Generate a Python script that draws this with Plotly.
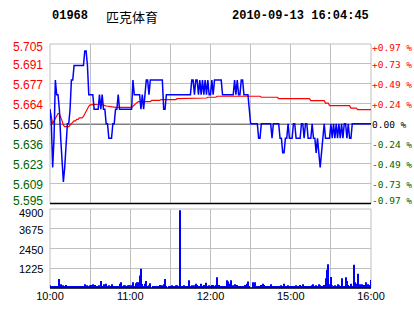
import plotly.graph_objects as go

# ---------------- data ----------------
stock_code = "01968"
stock_name = "匹克体育"
timestamp = "2010-09-13 16:04:45"
prev_close = 5.650

time_labels = ["10:00", "", "11:00", "", "12:00", "", "15:00", "", "16:00"]
time_ticks = [0, 30, 60, 90, 120, 150, 180, 210, 240]

price_labels = ["5.705", "5.691", "5.677", "5.664", "5.650", "5.636", "5.623", "5.609", "5.595"]
pct_labels = ["+0.97 %", "+0.73 %", "+0.49 %", "+0.24 %", "0.00 %", "-0.24 %", "-0.49 %", "-0.73 %", "-0.97 %"]
pct_steps = [4, 3, 2, 1, 0, -1, -2, -3, -4]
max_pct = 0.97

vol_ticks = [1225, 2450, 3675, 4900]
vol_labels = ["1225", "2450", "3675", "4900"]

minutes = list(range(241))

price = [
    5.66, 5.65, 5.62, 5.64, 5.68, 5.67, 5.67, 5.66, 5.64, 5.62,
    5.61, 5.62, 5.64, 5.65, 5.65, 5.66, 5.68, 5.68, 5.69, 5.69,
    5.69, 5.69, 5.69, 5.69, 5.69, 5.69, 5.70, 5.70, 5.69, 5.67,
    5.67, 5.67, 5.67, 5.66, 5.66, 5.66, 5.66, 5.67, 5.66, 5.67,
    5.66, 5.66, 5.65, 5.65, 5.64, 5.64, 5.64, 5.65, 5.65, 5.66,
    5.66, 5.67, 5.66, 5.66, 5.66, 5.66, 5.66, 5.66, 5.66, 5.66,
    5.66, 5.66, 5.68, 5.67, 5.67, 5.67, 5.67, 5.67, 5.66, 5.67,
    5.66, 5.67, 5.68, 5.68, 5.67, 5.68, 5.68, 5.68, 5.68, 5.68,
    5.68, 5.68, 5.68, 5.68, 5.68, 5.66, 5.66, 5.67, 5.67, 5.67,
    5.67, 5.67, 5.67, 5.67, 5.67, 5.67, 5.67, 5.67, 5.67, 5.67,
    5.67, 5.67, 5.67, 5.67, 5.67, 5.67, 5.68, 5.68, 5.67, 5.68,
    5.68, 5.67, 5.68, 5.67, 5.68, 5.67, 5.68, 5.67, 5.68, 5.67,
    5.67, 5.68, 5.67, 5.68, 5.68, 5.68, 5.68, 5.68, 5.68, 5.67,
    5.67, 5.67, 5.67, 5.67, 5.67, 5.67, 5.67, 5.67, 5.68, 5.67,
    5.68, 5.67, 5.67, 5.68, 5.68, 5.67, 5.67, 5.67, 5.67, 5.66,
    5.65, 5.65, 5.65, 5.65, 5.65, 5.65, 5.64, 5.64, 5.65, 5.65,
    5.65, 5.65, 5.65, 5.65, 5.65, 5.65, 5.64, 5.65, 5.65, 5.65,
    5.65, 5.65, 5.64, 5.64, 5.63, 5.63, 5.64, 5.64, 5.65, 5.64,
    5.64, 5.64, 5.65, 5.65, 5.64, 5.64, 5.64, 5.64, 5.65, 5.65,
    5.64, 5.65, 5.65, 5.64, 5.64, 5.64, 5.65, 5.64, 5.64, 5.63,
    5.64, 5.63, 5.62, 5.63, 5.64, 5.65, 5.64, 5.64, 5.64, 5.64,
    5.65, 5.64, 5.65, 5.64, 5.65, 5.64, 5.65, 5.64, 5.65, 5.64,
    5.65, 5.65, 5.64, 5.65, 5.64, 5.64, 5.65, 5.65, 5.65, 5.65,
    5.65, 5.65, 5.65, 5.65, 5.65, 5.65, 5.65, 5.65, 5.65, 5.65,
    5.65,
]

avg_price = [
    5.6600, 5.6560, 5.6500, 5.6520, 5.6540, 5.6560, 5.6570, 5.6570, 5.6550, 5.6520,
    5.6490, 5.6480, 5.6480, 5.6480, 5.6480, 5.6490, 5.6500, 5.6510, 5.6520, 5.6520,
    5.6530, 5.6530, 5.6540, 5.6540, 5.6540, 5.6550, 5.6570, 5.6590, 5.6610, 5.6620,
    5.6630, 5.6630, 5.6630, 5.6630, 5.6630, 5.6630, 5.6634, 5.6636, 5.6632, 5.6630,
    5.6628, 5.6625, 5.6622, 5.6620, 5.6620, 5.6618, 5.6615, 5.6613, 5.6612, 5.6612,
    5.6612, 5.6612, 5.6613, 5.6613, 5.6613, 5.6613, 5.6613, 5.6613, 5.6613, 5.6613,
    5.6613, 5.6613, 5.6620, 5.6630, 5.6638, 5.6645, 5.6652, 5.6652, 5.6652, 5.6652,
    5.6652, 5.6652, 5.6652, 5.6652, 5.6652, 5.6652, 5.6660, 5.6660, 5.6660, 5.6660,
    5.6660, 5.6660, 5.6660, 5.6666, 5.6666, 5.6666, 5.6666, 5.6666, 5.6666, 5.6666,
    5.6666, 5.6666, 5.6666, 5.6666, 5.6666, 5.6672, 5.6672, 5.6672, 5.6672, 5.6672,
    5.6677, 5.6677, 5.6677, 5.6677, 5.6677, 5.6677, 5.6677, 5.6677, 5.6677, 5.6677,
    5.6677, 5.6677, 5.6677, 5.6677, 5.6677, 5.6677, 5.6677, 5.6677, 5.6682, 5.6682,
    5.6682, 5.6682, 5.6682, 5.6682, 5.6682, 5.6689, 5.6689, 5.6689, 5.6689, 5.6689,
    5.6689, 5.6689, 5.6689, 5.6689, 5.6689, 5.6689, 5.6689, 5.6689, 5.6689, 5.6689,
    5.6689, 5.6689, 5.6689, 5.6689, 5.6689, 5.6689, 5.6694, 5.6694, 5.6694, 5.6694,
    5.6694, 5.6689, 5.6689, 5.6689, 5.6689, 5.6689, 5.6689, 5.6689, 5.6682, 5.6682,
    5.6682, 5.6682, 5.6682, 5.6682, 5.6682, 5.6682, 5.6682, 5.6682, 5.6682, 5.6682,
    5.6682, 5.6672, 5.6672, 5.6672, 5.6672, 5.6672, 5.6672, 5.6672, 5.6672, 5.6672,
    5.6672, 5.6672, 5.6672, 5.6672, 5.6672, 5.6672, 5.6672, 5.6672, 5.6672, 5.6672,
    5.6672, 5.6672, 5.6672, 5.6672, 5.6672, 5.6659, 5.6659, 5.6659, 5.6659, 5.6659,
    5.6659, 5.6659, 5.6659, 5.6659, 5.6659, 5.6659, 5.6642, 5.6642, 5.6642, 5.6624,
    5.6624, 5.6624, 5.6624, 5.6624, 5.6624, 5.6624, 5.6624, 5.6624, 5.6624, 5.6624,
    5.6624, 5.6624, 5.6624, 5.6624, 5.6624, 5.6608, 5.6608, 5.6608, 5.6608, 5.6608,
    5.6597, 5.6597, 5.6597, 5.6597, 5.6597, 5.6597, 5.6597, 5.6597, 5.6597, 5.6597,
    5.6597,
]

volume = [
    170, 80, 120, 120, 120, 120, 0, 560, 230, 120,
    170, 120, 190, 120, 120, 120, 120, 120, 120, 120,
    120, 0, 120, 80, 0, 120, 230, 120, 170, 120,
    170, 190, 230, 120, 190, 120, 120, 170, 440, 120,
    230, 230, 270, 120, 170, 120, 230, 120, 120, 120,
    120, 120, 270, 350, 120, 170, 170, 120, 170, 170,
    170, 170, 350, 120, 290, 350, 350, 770, 1190, 250,
    120, 270, 440, 120, 170, 290, 0, 120, 120, 120,
    120, 120, 190, 120, 170, 230, 560, 120, 0, 120,
    120, 170, 120, 120, 170, 170, 120, 4820, 120, 120,
    170, 120, 120, 120, 480, 120, 170, 120, 170, 270,
    190, 120, 120, 270, 120, 190, 120, 330, 120, 170,
    120, 190, 190, 120, 190, 670, 190, 120, 120, 120,
    120, 120, 480, 400, 270, 480, 120, 170, 230, 120,
    190, 120, 120, 120, 120, 120, 190, 270, 400, 120,
    0, 0, 350, 350, 120, 120, 120, 120, 190, 270,
    190, 120, 120, 120, 120, 230, 120, 120, 120, 120,
    120, 120, 120, 170, 120, 270, 120, 120, 170, 120,
    120, 120, 120, 120, 170, 120, 120, 190, 120, 230,
    120, 120, 120, 120, 120, 120, 170, 230, 120, 170,
    120, 230, 170, 120, 120, 190, 600, 1130, 1480, 230,
    690, 170, 120, 170, 120, 230, 170, 120, 600, 120,
    120, 670, 440, 190, 120, 270, 120, 1440, 350, 270,
    880, 120, 230, 230, 120, 190, 350, 190, 230, 190,
    500,
]

# ---------------- styling / layout ----------------
W, H = 414, 314
L, R, T, B = 50, 371, 44, 288
PRICE_BOTTOM = 203.5
VOL_TOP = 209

RED = "#ff0000"
GREEN = "#006400"
GRID = "#c0c0c0"
BLUE = "#0000ff"

plot_h = B - T
plot_w = R - L


def px_x(px):
    return (px - L) / plot_w


def px_y(py):
    return (B - py) / plot_h


span = prev_close * max_pct / 100.0
y_lo, y_hi = prev_close - span, prev_close + span
tick_vals = [prev_close + s * span / 4.0 for s in pct_steps]


def colour_for(step):
    if step > 0:
        return RED
    if step < 0:
        return GREEN
    return "#000000"


def edge_shift(i, n, top_shift, bottom_shift):
    if i == 0:
        return top_shift
    if i == n - 1:
        return bottom_shift
    return -1


fig = go.Figure()

fig.add_trace(go.Bar(x=minutes, y=volume, xaxis="x2", yaxis="y3",
                     marker=dict(color=BLUE, line=dict(width=0)),
                     hoverinfo="skip", showlegend=False))
fig.add_trace(go.Scatter(x=minutes, y=avg_price, mode="lines", xaxis="x", yaxis="y",
                         line=dict(color=RED, width=1.2), hoverinfo="skip",
                         showlegend=False))
fig.add_trace(go.Scatter(x=minutes, y=price, mode="lines", xaxis="x", yaxis="y",
                         line=dict(color=BLUE, width=1.5), hoverinfo="skip",
                         showlegend=False))

price_dom = [px_y(PRICE_BOTTOM), 1.0]
vol_dom = [0.0, px_y(VOL_TOP)]

fig.update_layout(
    width=W, height=H,
    margin=dict(l=L, r=W - R, t=T, b=H - B, pad=0, autoexpand=False),
    paper_bgcolor="#ffffff", plot_bgcolor="#ffffff",
    bargap=0.25,
    xaxis=dict(domain=[0, 1], range=[0, 240], anchor="y", tickvals=time_ticks,
               showticklabels=False, showgrid=True, gridcolor=GRID, gridwidth=1,
               zeroline=False, showline=False, ticks=""),
    yaxis=dict(domain=price_dom, range=[y_lo, y_hi], anchor="x", tickvals=tick_vals,
               showticklabels=False, showgrid=True, gridcolor=GRID, gridwidth=1,
               zeroline=False, showline=False, ticks=""),
    xaxis2=dict(domain=[0, 1], range=[0, 240], anchor="y3", tickvals=time_ticks,
                ticktext=time_labels, showgrid=True, gridcolor=GRID, gridwidth=1,
                zeroline=False, showline=False, ticks="", automargin=False,
                tickfont=dict(family="Liberation Sans, Arial, sans-serif", size=11,
                              color="#000000")),
    yaxis3=dict(domain=vol_dom, range=[0, vol_ticks[-1]], anchor="x2", tickvals=vol_ticks,
                showticklabels=False, showgrid=True, gridcolor=GRID, gridwidth=1,
                zeroline=False, showline=False, ticks=""),
)

shapes = []
shapes.append(dict(type="rect", xref="x domain", yref="y domain", x0=0, x1=1, y0=0, y1=1,
                   line=dict(color=GRID, width=1), layer="below"))
shapes.append(dict(type="line", xref="x domain", yref="y domain", x0=0, x1=1, y0=0, y1=0,
                   line=dict(color="#000000", width=1.5), layer="above"))
shapes.append(dict(type="line", xref="x domain", yref="y", x0=0, x1=1, y0=prev_close,
                   y1=prev_close, line=dict(color="#000000", width=1.3), layer="below"))
shapes.append(dict(type="rect", xref="x2 domain", yref="y3 domain", x0=0, x1=1, y0=0, y1=1,
                   line=dict(color=GRID, width=1), layer="below"))
shapes.append(dict(type="line", xref="x2 domain", yref="y3 domain", x0=0, x1=1, y0=0, y1=0,
                   line=dict(color="#000000", width=1.5), layer="above"))
fig.update_layout(shapes=shapes)

annotations = []
n = len(tick_vals)
left_font = "Liberation Sans, Arial, sans-serif"
right_font = "DejaVu Sans Mono, Liberation Mono, monospace"
for i, (v, s) in enumerate(zip(tick_vals, pct_steps)):
    ys = edge_shift(i, n, -3, 3)
    annotations.append(dict(text=price_labels[i], x=px_x(45), y=v, xref="paper", yref="y",
                            xanchor="right", yanchor="middle", yshift=ys, showarrow=False,
                            font=dict(family=left_font, size=12, color=colour_for(s))))
    annotations.append(dict(text=pct_labels[i], x=px_x(371), y=v, xref="paper", yref="y",
                            xanchor="left", yanchor="middle", yshift=ys, showarrow=False,
                            borderpad=0,
                            font=dict(family=right_font, size=9.5, color=colour_for(s))))
for i, v in enumerate(vol_ticks):
    ys = -4 if i == len(vol_ticks) - 1 else -1
    annotations.append(dict(text=vol_labels[i], x=px_x(45), y=v, xref="paper", yref="y3",
                            xanchor="right", yanchor="middle", yshift=ys, showarrow=False,
                            font=dict(family=left_font, size=11, color="#000000")))

title_font = dict(family="Liberation Mono, DejaVu Sans Mono, monospace", size=12,
                  color="#000000")
annotations += [
    dict(text="<b>%s</b>" % stock_code, x=px_x(50), y=px_y(16), xref="paper", yref="paper",
         xanchor="left", yanchor="middle", showarrow=False, font=title_font),
    dict(text=stock_name, x=px_x(104), y=px_y(16), xref="paper", yref="paper",
         xanchor="left", yanchor="middle", showarrow=False,
         font=dict(family="Noto Sans CJK SC", size=13, color="#000000")),
    dict(text="<b>%s</b>" % timestamp, x=px_x(371), y=px_y(16), xref="paper", yref="paper",
         xanchor="right", yanchor="middle", showarrow=False, font=title_font),
]
fig.update_layout(annotations=annotations)

fig.write_html("out.html")
